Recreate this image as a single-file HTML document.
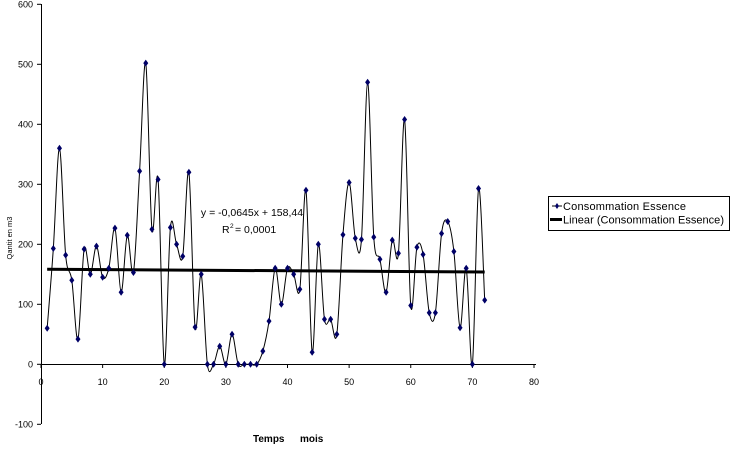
<!DOCTYPE html>
<html><head><meta charset="utf-8"><style>
html,body{margin:0;padding:0;background:#fff;}
svg{display:block;font-family:"Liberation Sans",sans-serif;}
</style></head><body>
<svg id="s" width="731" height="449" viewBox="0 0 731 449" xmlns="http://www.w3.org/2000/svg">
<rect width="731" height="449" fill="#fff"/>
<g id="ax" stroke="#000" stroke-width="1" fill="none"></g>
<g id="lb" font-size="9" fill="#000"></g>
<path id="curve" fill="none" stroke="#000" stroke-width="1"/>
<line id="trend" stroke="#000" stroke-width="3"/>
<g id="mk" fill="#000066"></g>
<text x="252" y="216" font-size="10.5" text-anchor="middle">y = -0,0645x + 158,44</text>
<text x="222" y="233" font-size="10.5">R</text><text x="230" y="228" font-size="6.5">2</text><text x="235" y="233" font-size="10.5"> = 0,0001</text>
<text transform="translate(12,238) rotate(-90)" font-size="7.5" text-anchor="middle">Qantit en m3</text>
<text x="253" y="442" font-size="10" font-weight="bold">Temps</text>
<text x="300" y="442" font-size="10" font-weight="bold">mois</text>
<rect x="548.5" y="196.5" width="181" height="34" fill="#fff" stroke="#000"/>
<line x1="552" y1="206" x2="562" y2="206" stroke="#000"/>
<path d="M557 203 L559 206 L557 209 L555 206Z" fill="#000066"/>
<text x="563" y="210" font-size="11" textLength="123">Consommation Essence</text>
<line x1="550" y1="219.5" x2="562" y2="219.5" stroke="#000" stroke-width="3"/>
<text x="563" y="223.5" font-size="11" textLength="161">Linear (Consommation Essence)</text>
</svg>
<script>
var d=[60,193,360,182,140,42,192,150,197,145,160,227,120,215,153,322,502,225,308,0,228,200,180,320,62,150,0,0,30,0,50,0,0,0,0,22,72,160,100,160,150,125,290,20,200,75,75,50,216,303,210,208,470,212,175,120,207,185,408,98,195,183,86,86,218,238,188,61,160,0,293,107];
function X(v){return 41+v*6.1625;}function Y(v){return 364.3-v*0.6;}
var ns="http://www.w3.org/2000/svg";
function el(t,a,p){var e=document.createElementNS(ns,t);for(var k in a)e.setAttribute(k,a[k]);document.getElementById(p).appendChild(e);return e;}
el('line',{x1:41.5,y1:4,x2:41.5,y2:424},'ax');
el('line',{x1:41,y1:364.5,x2:536,y2:364.5},'ax');
for(var v=-100;v<=600;v+=100){var y=Y(v);el('line',{x1:37,y1:y,x2:41,y2:y},'ax');var t=el('text',{x:33,y:y+3,'text-anchor':'end'},'lb');t.textContent=(v<0?'-100':v);}
for(var v=0;v<=80;v+=10){var x=X(v);el('line',{x1:x,y1:364,x2:x,y2:368},'ax');var t=el('text',{x:x,y:385,'text-anchor':'middle'},'lb');t.textContent=v;}
var P=d.map(function(v,i){return [X(i+1),Y(v)];});
var s='M'+P[0][0]+' '+P[0][1];
for(var i=0;i<P.length-1;i++){var p0=P[i-1]||P[i],p1=P[i],p2=P[i+1],p3=P[i+2]||P[i+1];var t=1/6;
s+=' C'+(p1[0]+(p2[0]-p0[0])*t)+' '+(p1[1]+(p2[1]-p0[1])*t)+' '+(p2[0]-(p3[0]-p1[0])*t)+' '+(p2[1]-(p3[1]-p1[1])*t)+' '+p2[0]+' '+p2[1];}
document.getElementById('curve').setAttribute('d',s);
var tr=document.getElementById('trend');tr.setAttribute('x1',X(1));tr.setAttribute('x2',X(72));tr.setAttribute('y1',Y(158.4));tr.setAttribute('y2',Y(158.4-0.0645*71));
P.forEach(function(p){el('path',{d:'M'+p[0]+' '+(p[1]-3.5)+' L'+(p[0]+2.5)+' '+p[1]+' L'+p[0]+' '+(p[1]+3.5)+' L'+(p[0]-2.5)+' '+p[1]+'Z'},'mk');});
</script>
</body></html>
